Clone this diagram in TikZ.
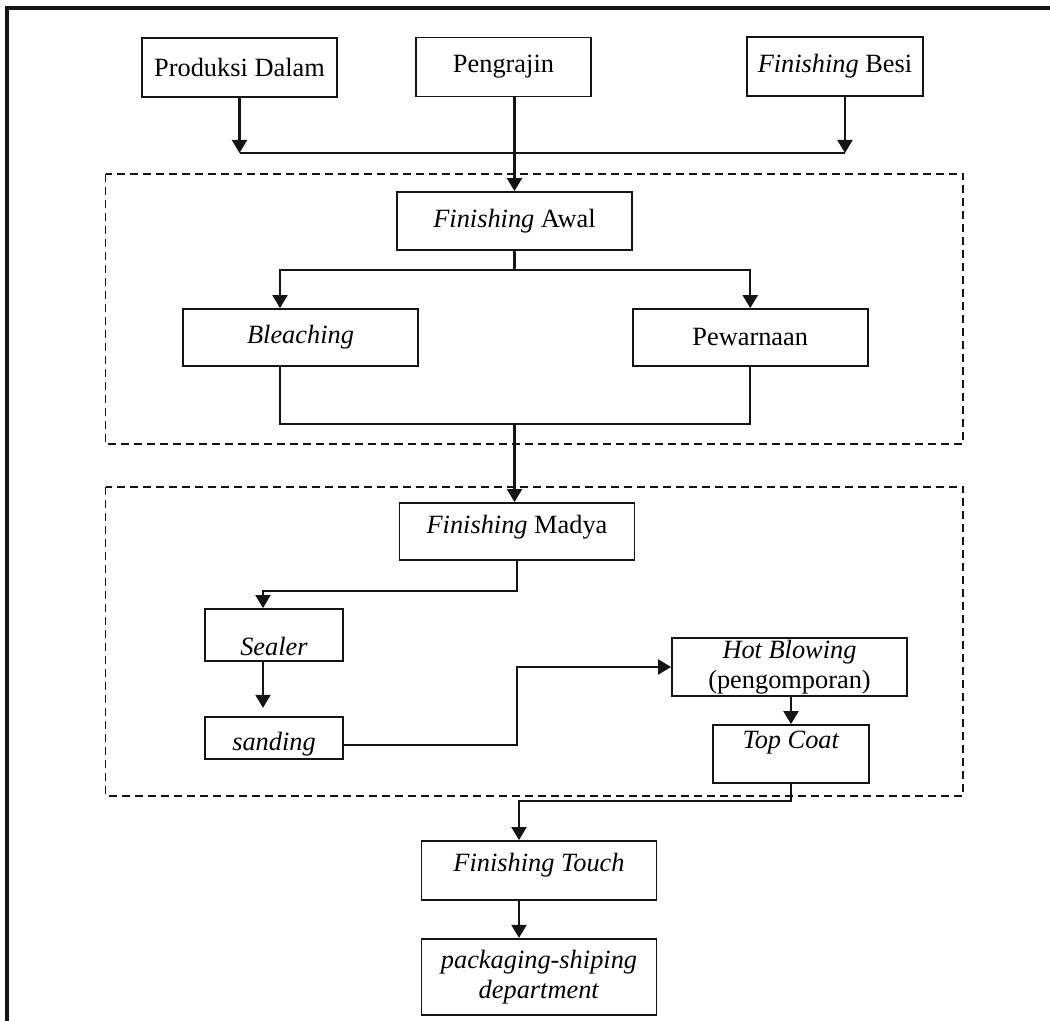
\documentclass[tikz,border=0pt]{standalone}
\usepackage{fontspec}
\setmainfont{Liberation Serif}
\usetikzlibrary{arrows.meta,positioning,calc}
\definecolor{inkblack}{HTML}{141414}
\tikzset{
  box/.style={draw=inkblack,line width=1pt,fill=white,align=center,inner sep=2pt,minimum width=4.7cm,minimum height=1.16cm},
  smallbox/.style={box,minimum width=2.76cm},
  hightext/.style={text height=11pt,text depth=#1},
  lowtext/.style={text depth=0pt,text height=#1},
  link/.style={line width=1.2pt,draw=inkblack},
  flow/.style={link,-{Triangle[length=2.6mm,width=3mm]}},
  stage/.style={draw=inkblack,line width=0.9pt,dash pattern=on 1.6mm off 1mm},
  frame/.style={draw=inkblack,line width=1.8pt}
}

\begin{document}
\begin{tikzpicture}[font=\fontsize{15}{17}\selectfont]
  \useasboundingbox (0,0) rectangle (21,-20.42);
  \draw[frame] (0.14,-20.42) -- (0.14,-0.16) -- (21,-0.16);
  % the two finishing stages
  \draw[stage] (2.11,-3.48) rectangle (19.26,-8.88);
  \draw[stage] (2.11,-9.74) rectangle (19.26,-15.92);
  % sources
  \node[box,minimum width=3.9cm,minimum height=1.18cm] (produksi) at (4.79,-1.35) {Produksi Dalam};
  \node[box,minimum width=3.5cm,minimum height=1.18cm] (pengrajin) at (10.07,-1.34) {Pengrajin};
  \node[box,minimum width=3.52cm,minimum height=1.18cm] (besi) at (16.70,-1.33) {\textit{Finishing} Besi};
  % finishing awal
  \node[box] (awal) at (10.29,-4.42) {\textit{Finishing} Awal};
  \node[box,minimum height=1.14cm] (bleaching) at (6.01,-6.75) {\textit{Bleaching}};
  \node[box,minimum height=1.14cm,right=4.26cm of bleaching] (pewarnaan) {Pewarnaan};
  % finishing madya
  \node[box,minimum height=1.14cm,hightext=8.4pt] (madya) at (10.34,-10.63) {\textit{Finishing} Madya};
  \node[smallbox,minimum height=1.04cm,lowtext=23.6pt] (sealer) at (5.48,-12.70) {\textit{Sealer}};
  \node[smallbox,minimum height=0.84cm,lowtext=14.6pt,below=1.08cm of sealer] (sanding) {\textit{sanding}};
  \node[box,inner ysep=0pt] (hot) at (15.79,-13.34) {\textit{Hot Blowing}\\(pengomporan)};
  \node[box,minimum width=3.12cm,hightext=17pt] (topcoat) at (15.82,-15.08) {\textit{Top Coat}};
  % finishing touch
  \node[box,minimum height=1.18cm,hightext=9.6pt] (touch) at (10.78,-17.41) {\textit{Finishing Touch}};
  \node[box,minimum height=1.52cm,below=0.74cm of touch] (packing) {\textit{packaging-shiping}\\\textit{department}};

  \coordinate (bus) at (10.29,-3.06);
  \coordinate (besiout) at ([xshift=2mm]besi.south);
  \draw[flow] (produksi.south) -- (produksi.south |- bus);
  \draw[flow] (besiout) -- (besiout |- bus);
  \draw[link] (produksi.south |- bus) -- (besiout |- bus);
  \draw[flow] (pengrajin.south -| awal.north) -- (awal.north);

  \coordinate (split) at ($(awal.south)+(0,-0.38)$);
  \coordinate (bleachin) at ([xshift=-4.1mm]bleaching.north);
  \draw[link] (awal.south) -- (split);
  \draw[flow] (split) -| (bleachin);
  \draw[flow] (split) -| (pewarnaan.north);
  \coordinate (merge) at ($(split)+(0,-3.08)$);
  \draw[link] (bleachin |- bleaching.south) |- (merge) -| (pewarnaan.south);
  \draw[flow] (merge) -- (merge |- madya.north);

  \coordinate (sealin) at ([xshift=-2.2mm]sealer.north);
  \draw[flow] (madya.south) -- ++(0,-0.6) -| (sealin);
  \draw[flow,shorten >=1.6mm] (sealin |- sealer.south) -- (sealin |- sanding.north);
  \draw[flow] ([yshift=-1.4mm]sanding.east) -| (madya.south |- hot.west) -- (hot.west);
  \draw[flow] (hot.south -| topcoat.north) -- (topcoat.north);

  \coordinate (spine) at ([xshift=-4mm]touch.north);
  \draw[flow] (topcoat.south) -- ++(0,-0.34) -| (spine);
  \draw[flow] (spine |- touch.south) -- (spine |- packing.north);
\end{tikzpicture}
\end{document}
